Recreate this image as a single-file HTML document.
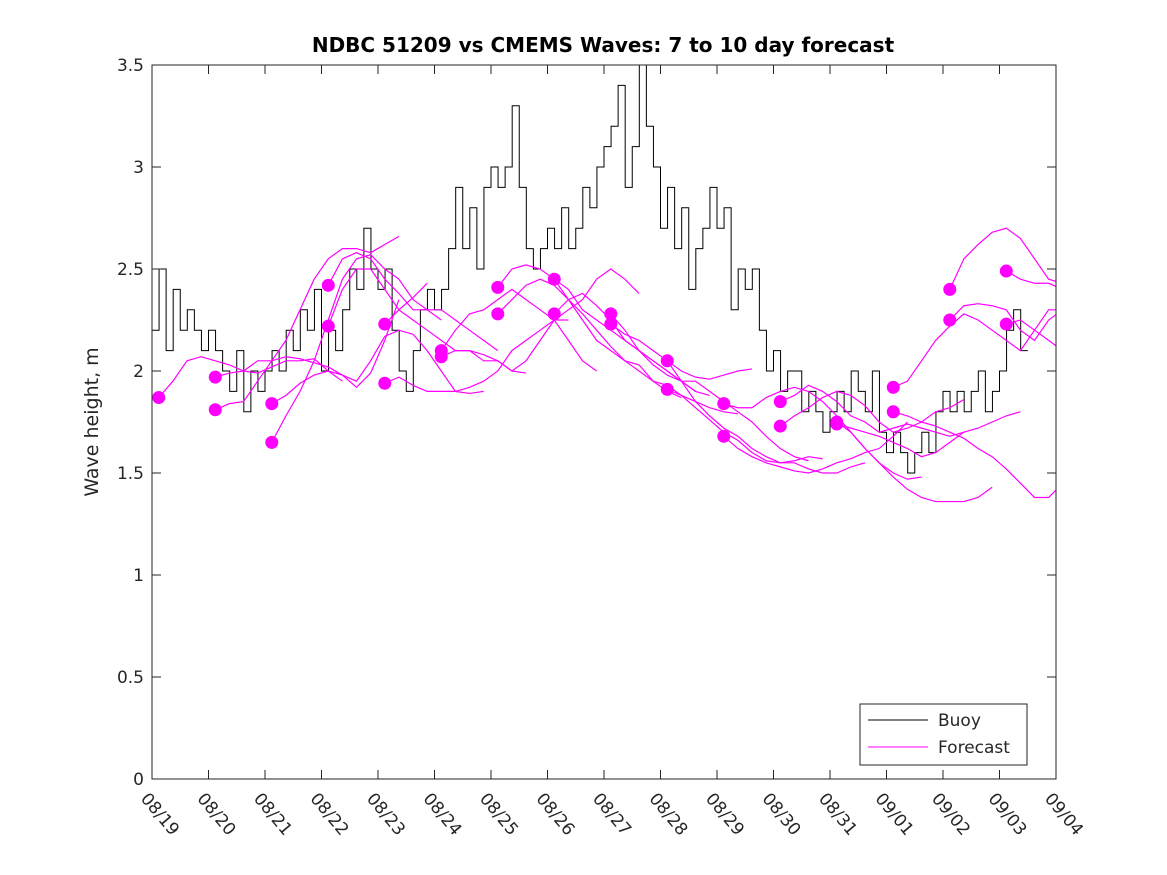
<!DOCTYPE html>
<html><head><meta charset="utf-8"><style>
body{margin:0;background:#fff}
svg{display:block;font-family:"DejaVu Sans","Liberation Sans",sans-serif}
</style></head><body>
<svg id="chart" width="1167" height="875" viewBox="0 0 1167 875">
<rect x="0" y="0" width="1167" height="875" fill="#fff"/>
<text x="603" y="52" text-anchor="middle" font-size="20" font-weight="bold">NDBC 51209 vs CMEMS Waves: 7 to 10 day forecast</text>
<text transform="translate(98,422) rotate(-90)" text-anchor="middle" font-size="19" fill="#262626">Wave height, m</text>
<g id="plot"></g>
</svg>
<script>
const xTickLabels=["08/19","08/20","08/21","08/22","08/23","08/24","08/25","08/26","08/27","08/28","08/29","08/30","08/31","09/01","09/02","09/03","09/04"];
const yTicks=[0,0.5,1,1.5,2,2.5,3,3.5];
const buoyStep=0.125;
const buoy=[2.2,2.5,2.1,2.4,2.2,2.3,2.2,2.1,
2.2,2.1,2.0,1.9,2.1,1.8,2.0,1.9,
2.0,2.1,2.0,2.2,2.1,2.3,2.2,2.4,
2.0,2.2,2.1,2.3,2.5,2.4,2.7,2.5,
2.4,2.5,2.2,2.0,1.9,2.1,2.3,2.4,
2.3,2.4,2.6,2.9,2.6,2.8,2.5,2.9,
3.0,2.9,3.0,3.3,2.9,2.6,2.5,2.6,
2.7,2.6,2.8,2.6,2.7,2.9,2.8,3.0,
3.1,3.2,3.4,2.9,3.1,3.5,3.2,3.0,
2.7,2.9,2.6,2.8,2.4,2.6,2.7,2.9,
2.7,2.8,2.3,2.5,2.4,2.5,2.2,2.0,
2.1,1.9,2.0,2.0,1.8,1.9,1.8,1.7,
1.8,1.9,1.8,2.0,1.9,1.8,2.0,1.7,
1.6,1.7,1.6,1.5,1.6,1.7,1.6,1.8,
1.9,1.8,1.9,1.8,1.9,2.0,1.8,1.9,
2.0,2.2,2.3,2.1];
const fcStep=0.25;
const fcStarts=[0.12,1.12,1.12,2.12,2.12,3.12,3.12,4.12,4.12,5.12,5.12,6.12,6.12,7.12,7.12,8.12,8.12,9.12,9.12,10.12,10.12,11.12,11.12,12.12,12.12,13.12,13.12,14.12,14.12,15.12,15.12];
const fcValues=[
[1.87,1.95,2.05,2.07,2.05,2.03,2.0,1.99,2.02,2.05,2.05,2.06,2.0,1.95],
[1.97,1.99,2.0,2.05,2.05,2.07,2.06,2.04,2.02,1.98,1.92,1.99,2.15,2.35],
[1.81,1.84,1.85,1.95,2.05,2.15,2.3,2.45,2.55,2.6,2.6,2.58,2.62,2.66],
[1.84,1.88,1.94,1.98,2.0,1.98,1.95,2.05,2.17,2.2,2.18,2.1,2.0,1.9,1.89,1.9],
[1.65,1.78,1.9,2.05,2.25,2.45,2.55,2.57,2.5,2.45,2.35,2.3,2.25],
[2.42,2.55,2.58,2.55,2.45,2.38,2.3,2.3,2.3,2.25,2.2,2.15,2.1],
[2.22,2.4,2.5,2.5,2.4,2.3,2.25,2.2,2.15,2.1,2.1,2.05,2.05,2.0,1.99],
[2.23,2.3,2.36,2.43],
[1.94,1.97,1.93,1.9,1.9,1.9,1.92,1.95,2.0,2.1,2.15,2.2,2.25,2.25],
[2.10,2.2,2.28,2.3,2.35,2.4,2.35,2.3,2.25,2.15,2.05,2.0],
[2.07,2.1,2.1,2.08,2.05,2.0,2.05,2.15,2.25,2.3,2.35,2.45,2.5,2.45,2.38],
[2.41,2.5,2.52,2.5,2.45,2.4,2.3,2.25,2.2,2.15,2.1,2.05,2.0,1.95,1.9],
[2.28,2.35,2.42,2.45,2.42,2.35,2.25,2.15,2.1,2.05,2.03,1.95,1.9,1.87],
[2.45,2.35,2.28,2.2,2.12,2.05,2.0,1.95,1.93,1.88,1.85,1.82,1.8,1.79],
[2.28,2.35,2.38,2.32,2.25,2.15,2.1,2.05,2.0,1.95,1.9,1.88],
[2.28,2.2,2.1,2.03,1.98,1.95,1.95,1.9,1.85,1.8,1.75,1.68,1.62,1.58,1.56],
[2.23,2.18,2.15,2.1,2.05,2.0,1.97,1.96,1.98,2.0,2.01],
[2.05,1.95,1.85,1.78,1.72,1.68,1.62,1.58,1.55,1.55,1.52,1.5,1.5,1.53,1.55],
[1.91,1.88,1.82,1.76,1.7,1.66,1.6,1.56,1.55,1.56,1.58,1.57],
[1.84,1.82,1.82,1.87,1.9,1.92,1.9,1.85,1.78,1.7,1.62,1.55,1.5,1.47,1.48],
[1.68,1.62,1.58,1.55,1.53,1.51,1.5,1.52,1.55,1.57,1.6,1.62,1.68,1.75],
[1.85,1.88,1.93,1.9,1.85,1.78,1.75,1.7,1.72,1.74,1.72,1.7,1.68,1.7],
[1.73,1.78,1.82,1.87,1.9,1.88,1.83,1.75,1.7,1.72,1.75,1.8,1.82,1.86],
[1.75,1.7,1.62,1.55,1.48,1.42,1.38,1.36,1.36,1.36,1.38,1.43],
[1.74,1.72,1.7,1.68,1.65,1.62,1.58,1.6,1.65,1.7,1.72,1.75,1.78,1.8],
[1.92,1.95,2.05,2.15,2.22,2.28,2.25,2.2,2.15,2.1,2.2,2.3,2.3,2.3,2.28],
[1.80,1.78,1.75,1.73,1.7,1.67,1.62,1.58,1.52,1.45,1.38,1.38,1.45,1.55,1.68],
[2.40,2.55,2.62,2.68,2.7,2.65,2.55,2.45,2.43,2.4,2.45,2.52],
[2.25,2.32,2.33,2.32,2.3,2.2,2.15,2.25,2.3,2.25,2.2,2.15,2.08],
[2.49,2.45,2.43,2.43,2.4,2.38],
[2.23,2.25,2.2,2.15,2.1,2.05,2.02]
];
const X0=152,X1=1056,Y0=779,Y1=65,DAYS=16,YMAX=3.5;
const xs=d=>X0+(X1-X0)*d/DAYS;
const ys=v=>Y0-(Y0-Y1)*v/YMAX;
const NS="http://www.w3.org/2000/svg";
const plot=document.getElementById('plot');
function mk(tag,attrs,parent){const e=document.createElementNS(NS,tag);for(const k in attrs)e.setAttribute(k,attrs[k]);(parent||plot).appendChild(e);return e;}
const cp=mk('clipPath',{id:'clip'});mk('rect',{x:X0,y:Y1,width:X1-X0,height:Y0-Y1},cp);
let d='';
buoy.forEach((v,i)=>{const x=xs(i*buoyStep),y=ys(v);if(i===0)d+=`M${x},${y}`;else d+=`V${y}`;d+=`H${xs((i+1)*buoyStep)}`;});
const bl=mk('path',{d:d,fill:'none',stroke:'#000','stroke-width':1,'clip-path':'url(#clip)'});


fcValues.forEach((vals,i)=>{
 const s=fcStarts[i];
 const pd=vals.map((v,j)=>(j?'L':'M')+xs(s+j*fcStep)+','+ys(v)).join('');
 const p=mk('path',{d:pd,fill:'none',stroke:'#ff00ff','stroke-width':1.2,'clip-path':'url(#clip)'});
 
 
});
fcValues.forEach((vals,i)=>{
 const c=mk('circle',{cx:xs(fcStarts[i]),cy:ys(vals[0]),r:6.5,fill:'#ff00ff'});
 
 
});
const box=mk('rect',{x:X0,y:Y1,width:X1-X0,height:Y0-Y1,fill:'none',stroke:'#262626','stroke-width':1});


yTicks.forEach(v=>{
 const y=ys(v);
 mk('line',{x1:X0,y1:y,x2:X0+9,y2:y,stroke:'#262626'});
 mk('line',{x1:X1,y1:y,x2:X1-9,y2:y,stroke:'#262626'});
 const t=mk('text',{x:X0-8,y:y+6,'text-anchor':'end','font-size':17,fill:'#262626'});
 t.textContent=String(v);
 
 
});
xTickLabels.forEach((lab,i)=>{
 const x=xs(i);
 mk('line',{x1:x,y1:Y0,x2:x,y2:Y0-9,stroke:'#262626'});
 mk('line',{x1:x,y1:Y1,x2:x,y2:Y1+9,stroke:'#262626'});
 const t=mk('text',{transform:`translate(${x-12},${Y0+20}) rotate(50)`,'font-size':17,fill:'#262626'});
 t.textContent=lab;
 
 
});
const lg=mk('g',{});


mk('rect',{x:860,y:704,width:167,height:61,fill:'#fff',stroke:'#262626'},lg);
mk('line',{x1:868,y1:720,x2:928,y2:720,stroke:'#000'},lg);
mk('line',{x1:868,y1:747,x2:928,y2:747,stroke:'#ff00ff'},lg);
const t1=mk('text',{x:938,y:726,'font-size':17,fill:'#262626'},lg);t1.textContent='Buoy';


const t2=mk('text',{x:938,y:753,'font-size':17,fill:'#262626'},lg);t2.textContent='Forecast';


</script>
</body></html>
